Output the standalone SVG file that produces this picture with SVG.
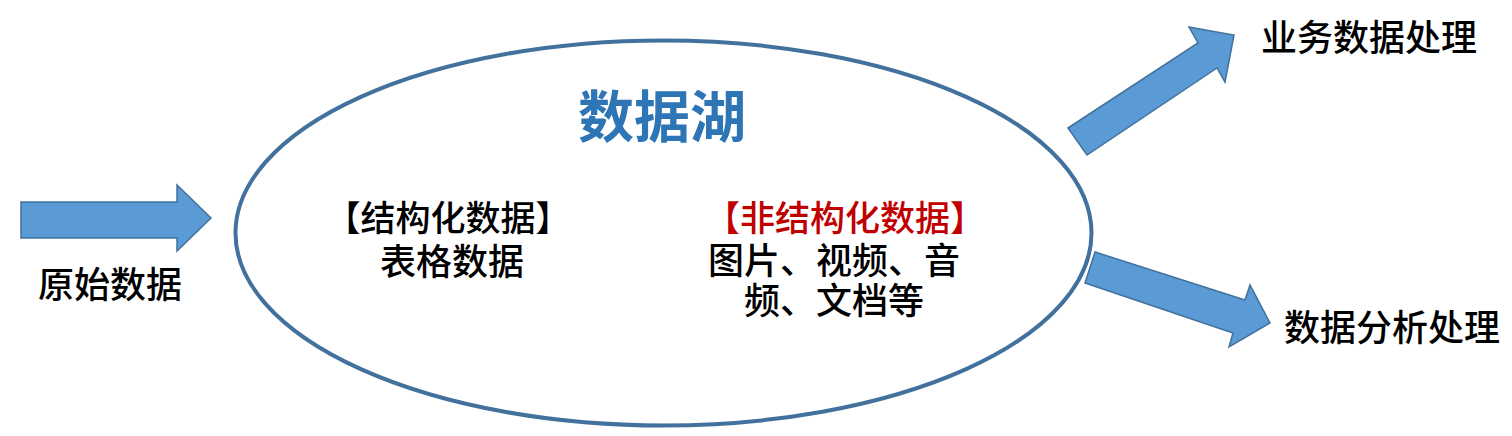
<svg xmlns="http://www.w3.org/2000/svg" width="1512" height="436" viewBox="0 0 1512 436">
<style>
.arrow{fill:#5b9bd5;stroke:#41719c;stroke-width:1.5;stroke-linejoin:miter}
.t{font-family:"Noto Sans CJK SC","Noto Sans",sans-serif;font-size:36px;font-weight:500;fill:#000;text-anchor:middle;dominant-baseline:central}
.title{font-family:"Noto Sans CJK SC","Noto Sans",sans-serif;font-size:56px;font-weight:bold;fill:#2e75b6;text-anchor:middle;dominant-baseline:central}
</style>
<rect width="1512" height="436" fill="#ffffff"/>
<g id="lake">
<ellipse cx="663.5" cy="233" rx="428" ry="192.5" fill="none" stroke="#41719c" stroke-width="4"/>
<text class="title" x="662" y="112">数据湖</text>
<text class="t" x="448" y="215" style="font-size:35px">【结构化数据】</text>
<text class="t" x="452" y="259">表格数据</text>
<text class="t" x="845" y="215" style="fill:#c00000;font-size:35px">【非结构化数据】</text>
<text class="t" x="834" y="258">图片、视频、音</text>
<text class="t" x="834" y="298">频、文档等</text>
</g>
<g id="raw">
<text class="t" x="110" y="282">原始数据</text>
</g>
<g id="biz">
<text class="t" x="1369" y="35">业务数据处理</text>
</g>
<g id="analysis">
<text class="t" x="1392" y="325">数据分析处理</text>
</g>
<g id="connectors">
<polygon class="arrow" points="21,202 177,202 177,185 211,218 177,251 177,238 21,238"/>
<polygon class="arrow" points="1068,128 1198,43 1189,27 1234,35 1225,82 1217,68 1087,155"/>
<polygon class="arrow" points="1095,252 1245,300 1250,285 1270,323 1229,347 1233,333 1085,283"/>
</g>
</svg>
